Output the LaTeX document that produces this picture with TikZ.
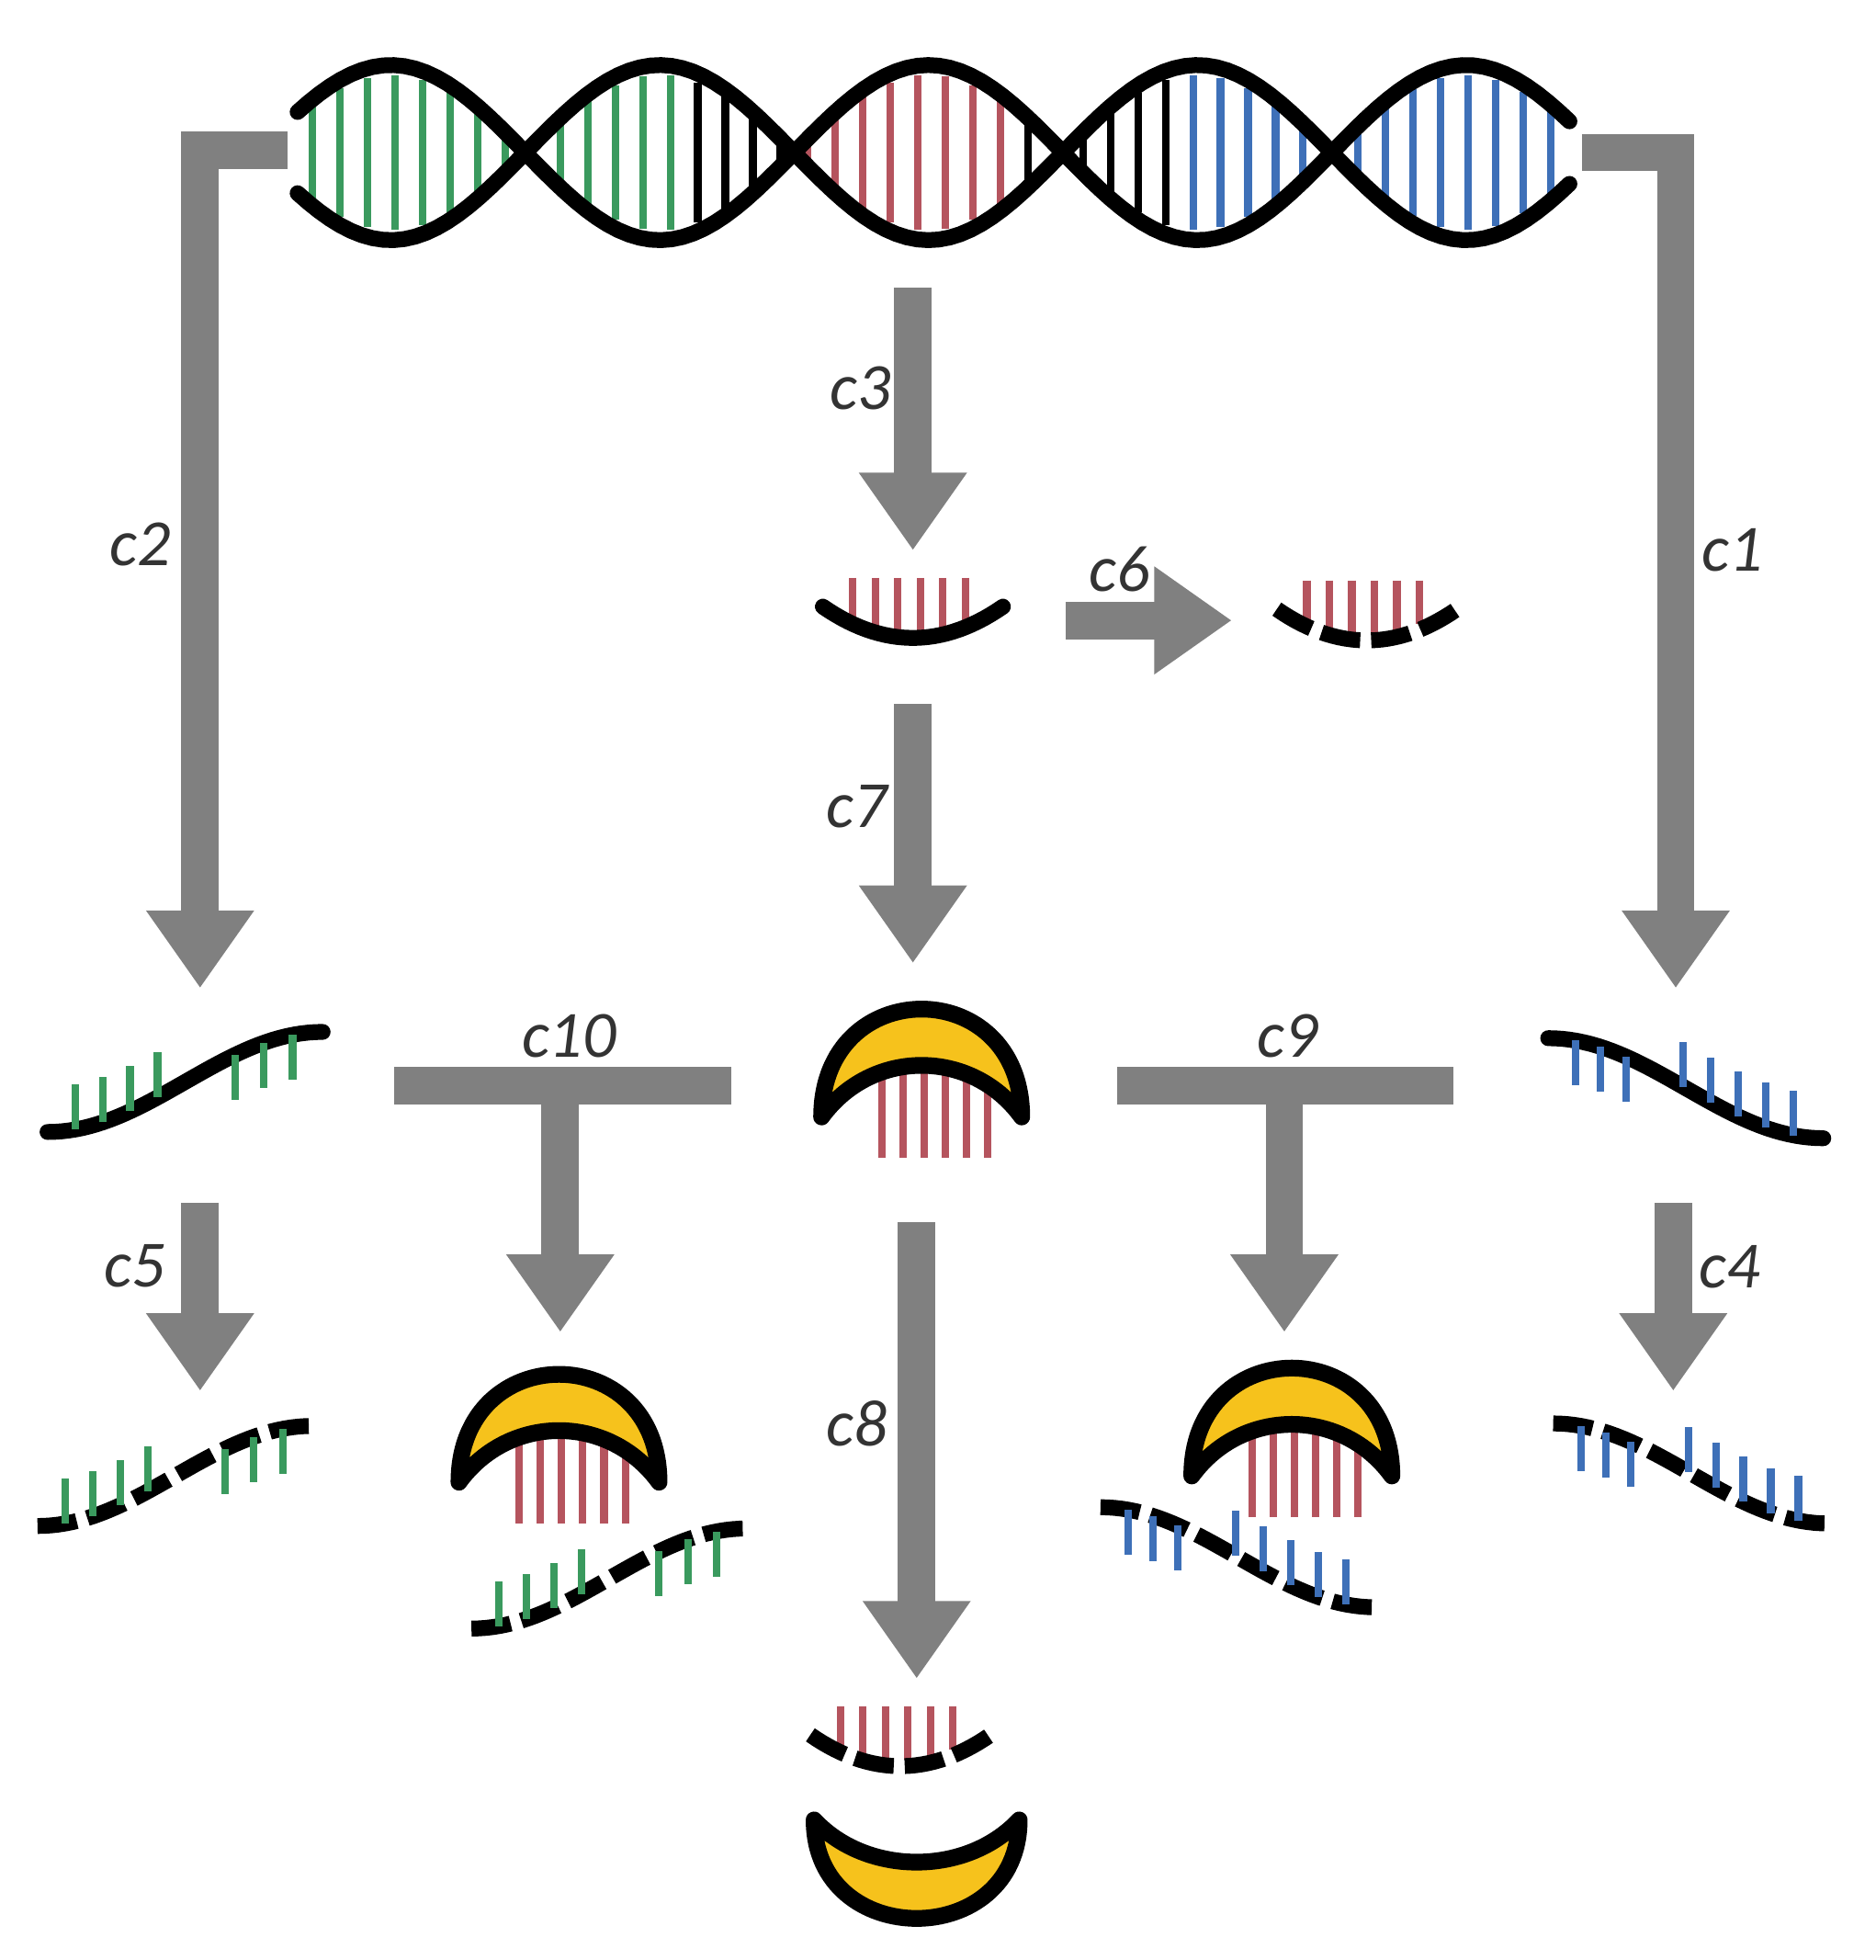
\documentclass[tikz,border=0pt]{standalone}
\usepackage{fontspec}
\setmainfont{Carlito}
\usetikzlibrary{arrows.meta}
\definecolor{dnagreen}{HTML}{3A9A5E}
\definecolor{dnared}{HTML}{B5545E}
\definecolor{dnablue}{HTML}{3E70B8}
\definecolor{flowgray}{HTML}{808080}
\definecolor{protein}{HTML}{F6C21C}
\tikzset{
  backbone/.style={line width=3.6pt,line cap=round},
  cut/.style={dash pattern=on 9pt off 2.5pt,line cap=butt},
  whole/.style={},
  rung/.style={line width=1.7pt},
  flow/.style={draw=flowgray,line width=0.3cm,-{Triangle[length=0.62cm,width=0.82cm]}},
  bar/.style={draw=flowgray,line width=0.3cm},
  lbl/.style={font=\fontsize{15}{18}\selectfont\itshape,text=black!80},
  pics/strand/.style n args={5}{code={
    \draw[backbone,#3] plot[domain=-110:110,samples=40] (\x,{#2*40*cos((\x+110)/220*180)});
    \foreach \x in {#4}
      \draw[rung,#1] (\x,{#2*40*cos((\x+110)/220*180)}) -- ++(0,{-#2*36});
    \foreach \x in {#5}
      \draw[rung,#1] (\x,{#2*40*cos((\x+110)/220*180)}) -- ++(0,{#2*36});
  }},
  pics/bowl/.style={code={
    \foreach \x in {-48,-30,-12,6,24,42}
      \draw[rung,dnared] (\x,-28) -- (\x,{25*(1-(\x/72)^2)-10});
    \draw[backbone,#1] plot[domain=-72:72,samples=30] (\x,{25*(1-(\x/72)^2)-5});
  }},
  pics/crescent/.style={code={
    \foreach \x in {-32,-15,2,19,36,53}
      \draw[rung,dnared] (\x,-10) -- (\x,58);
    \draw[line width=3.8pt,fill=protein,line join=round]
      (-80,25) .. controls (-80,-90) and (80,-90) .. (80,25)
      .. controls (40,-30) and (-40,-30) .. cycle;
  }},
  pics/cup/.style={code={
    \draw[line width=3.8pt,fill=protein,line join=round]
      (-82,-30) .. controls (-82,75) and (82,75) .. (82,-30)
      .. controls (40,15) and (-40,15) .. cycle;
  }}
}
\begin{document}
\begin{tikzpicture}[x=0.01cm,y=-0.01cm]
\useasboundingbox (0,0) rectangle (1500,1567);
% double helix
\foreach \x in {250,272,...,1245}{
  \pgfmathtruncatemacro\c{(\x<540)?1:((\x<640)?0:((\x<820)?2:((\x<950)?0:3)))}
  \ifcase\c \def\rc{black}\or\def\rc{dnagreen}\or\def\rc{dnared}\or\def\rc{dnablue}\fi
  \draw[rung,\rc] (\x,{122-62*sin((\x-420)/215*180)}) -- (\x,{122+62*sin((\x-420)/215*180)});
}
\draw[backbone] plot[domain=238:1255,samples=120] (\x,{122+70*sin((\x-420)/215*180)});
\draw[backbone] plot[domain=238:1255,samples=120] (\x,{122-70*sin((\x-420)/215*180)});
\coordinate (dna-l) at (230,120);
\coordinate (dna-r) at (1265,122);
\coordinate (dna-b) at (730,230);
% fragments
\pic at (148,865) {strand={dnagreen}{1}{whole}{-88,-66,-44,-22}{40,63,86}};
\pic at (1348,870) {strand={dnablue}{-1}{whole}{-88,-68,-48}{-2,20,42,64,86}};
\pic at (730,490) {bowl=whole};
\pic at (1093,492) {bowl=cut};
\pic at (737,868) {crescent};
\pic at (140,1180) {strand={dnagreen}{1}{cut}{-88,-66,-44,-22}{40,63,86}};
\pic at (447,1160) {crescent};
\pic at (487,1262) {strand={dnagreen}{1}{cut}{-88,-66,-44,-22}{40,63,86}};
\pic at (1352,1178) {strand={dnablue}{-1}{cut}{-88,-68,-48}{-2,20,42,64,86}};
\pic at (990,1245) {strand={dnablue}{-1}{cut}{-88,-68,-48}{-2,20,42,64,86}};
\pic at (1033,1155) {crescent};
\pic at (720,1392) {bowl=cut};
\pic at (733,1485) {cup};
% arrows
\coordinate (c2e) at (160,790);
\coordinate (c1e) at (1340,790);
\coordinate (c3e) at (730,440);
\coordinate (c6s) at (852,496);
\coordinate (c6e) at (985,496);
\coordinate (c7s) at (730,563);
\coordinate (c7e) at (730,770);
\coordinate (c10a) at (315,868);
\coordinate (c10b) at (585,868);
\coordinate (c10m) at (448,868);
\coordinate (c10e) at (448,1065);
\coordinate (c9a) at (893,868);
\coordinate (c9b) at (1162,868);
\coordinate (c9m) at (1027,868);
\coordinate (c9e) at (1027,1065);
\coordinate (c5s) at (160,962);
\coordinate (c5e) at (160,1112);
\coordinate (c4s) at (1338,962);
\coordinate (c4e) at (1338,1112);
\coordinate (c8s) at (733,977);
\coordinate (c8e) at (733,1342);
\draw[flow] (dna-l) -| (c2e);
\draw[flow] (dna-r) -| (c1e);
\draw[flow] (dna-b) -- (c3e);
\draw[flow] (c6s) -- (c6e);
\draw[flow] (c7s) -- (c7e);
\draw[bar] (c10a) -- (c10b);
\draw[flow] (c10m) -- (c10e);
\draw[bar] (c9a) -- (c9b);
\draw[flow] (c9m) -- (c9e);
\draw[flow] (c5s) -- (c5e);
\draw[flow] (c4s) -- (c4e);
\draw[flow] (c8s) -- (c8e);
% labels
\node[lbl] (l1) at (1385,440) {c1};
\node[lbl] (l2) at (112,435) {c2};
\node[lbl] (l3) at (688,310) {c3};
\node[lbl] (l4) at (1383,1013) {c4};
\node[lbl] (l5) at (108,1012) {c5};
\node[lbl] (l6) at (895,455) {c6};
\node[lbl] (l7) at (685,645) {c7};
\node[lbl] (l8) at (685,1138) {c8};
\node[lbl] (l9) at (1030,828) {c9};
\node[lbl] (l10) at (455,828) {c10};
\end{tikzpicture}
\end{document}
